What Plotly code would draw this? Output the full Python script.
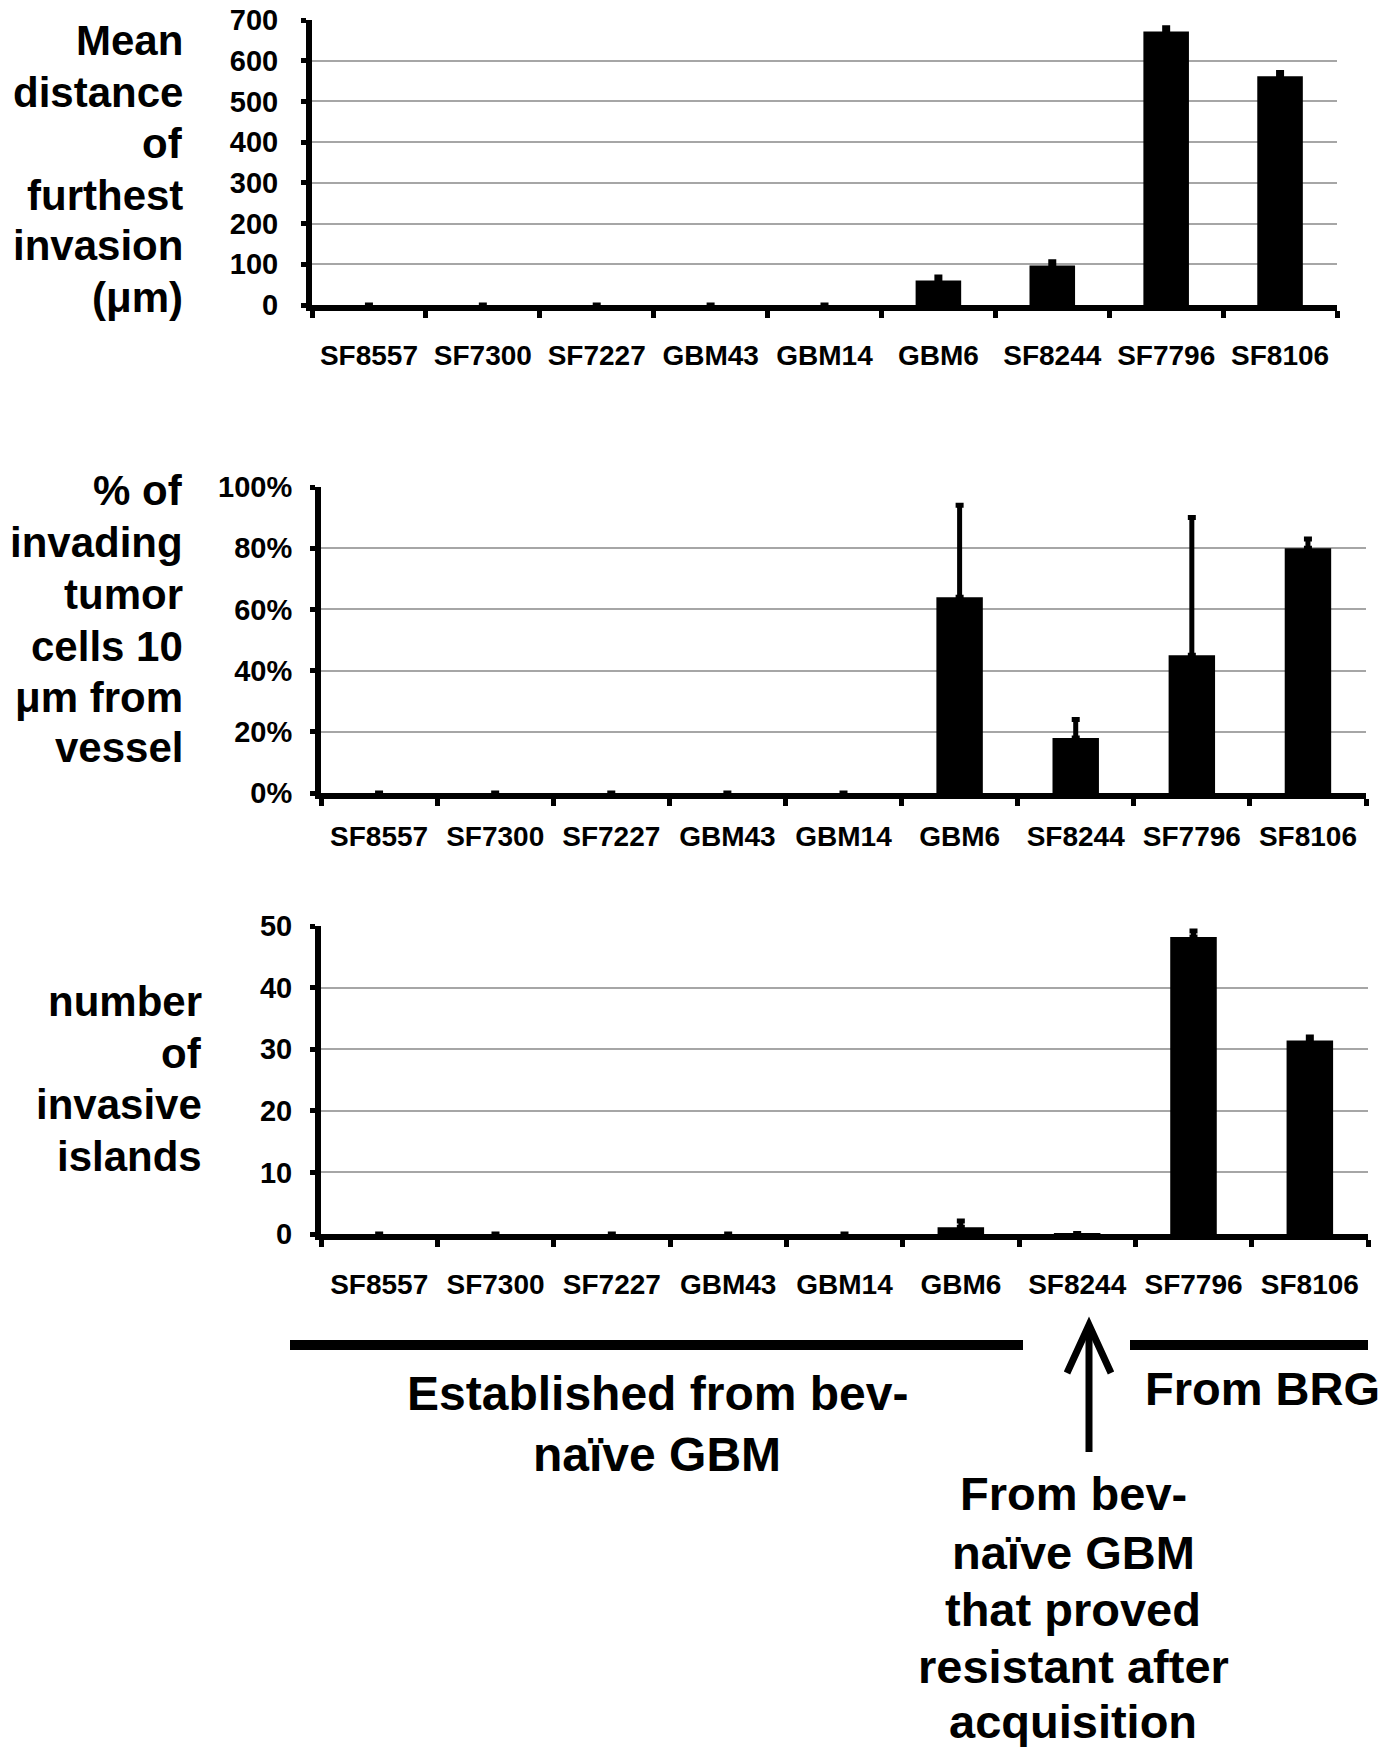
import plotly.graph_objects as go

W, H = 1399, 1747
FONT = 'Liberation Sans'
GRID = '#a6a6a6'

# data
cell_lines = ['SF8557', 'SF7300', 'SF7227', 'GBM43', 'GBM14', 'GBM6', 'SF8244', 'SF7796', 'SF8106']

distance = [0, 0, 0, 0, 0, 60, 97, 672, 562]
distance_err = [None, None, None, None, None, 9, 9, 9, 9]

pct_near_vessel = [0, 0, 0, 0, 0, 64, 18, 45, 80]
pct_near_vessel_err = [None, None, None, None, None, 30, 6, 45, 3]

islands = [0, 0, 0, 0, 0, 1.1, 0.1, 48.2, 31.4]
islands_err = [None, None, None, None, None, 1.0, None, 1.0, 0.6]


# page pixel -> paper fraction
def px(x):
    return x / W


def py(y):
    return 1 - y / H


fig = go.Figure()

panels = [
    # (values, errors, suffix, y range, dtick, x pixel span, y pixel span,
    #  x label size, x label standoff, y label standoff)
    (distance, distance_err, '', [0, 700], 100, (312, 1337), (20, 305), 28, 20, 17),
    (pct_near_vessel, pct_near_vessel_err, '%', [0, 100], 20, (321, 1366), (487, 793), 28, 13, 12),
    (islands, islands_err, '', [0, 50], 10, (321, 1368), (926, 1234), 28, 20, 12),
]

for i, (vals, errs, suffix, yr, dt, xs, ys, lab, so, yso) in enumerate(panels, start=1):
    sfx = '' if i == 1 else str(i)
    fig.add_trace(go.Bar(
        x=cell_lines, y=vals,
        xaxis='x' + sfx, yaxis='y' + sfx,
        marker=dict(color='black', line=dict(width=0)),
        error_y=dict(type='data', array=errs, arrayminus=[0] * len(errs), symmetric=False,
                     color='black', thickness=5, width=4),
        hoverinfo='none', showlegend=False
    ))
    fig.update_layout(**{
        'xaxis' + sfx: dict(
            domain=[px(xs[0]), px(xs[1])], anchor='y' + sfx, automargin=False,
            type='category', categoryorder='array', categoryarray=cell_lines,
            showline=True, linewidth=6, linecolor='black',
            ticks='outside', tickson='boundaries', ticklen=7, tickwidth=5, tickcolor='black',
            showgrid=False, ticklabelstandoff=so, tickangle=0, ticklabeloverflow='allow',
            tickfont=dict(family=FONT, size=lab, color='black', weight='bold'),
            fixedrange=True
        ),
        'yaxis' + sfx: dict(
            domain=[py(ys[1]), py(ys[0])], anchor='x' + sfx, automargin=False,
            range=yr, dtick=dt, ticksuffix=suffix,
            showline=True, linewidth=6, linecolor='black',
            ticks='outside', ticklen=5, tickwidth=5, tickcolor='black',
            showgrid=True, gridcolor=GRID, gridwidth=2, zeroline=False,
            ticklabelstandoff=yso, ticklabeloverflow='allow',
            tickfont=dict(family=FONT, size=29, color='black', weight='bold'),
            fixedrange=True
        ),
    })

annotations = []


def add_lines(lines, x, ys, anchor, size):
    for text, y in zip(lines, ys):
        annotations.append(dict(
            text=text, x=px(x), y=py(y), xref='paper', yref='paper',
            xanchor=anchor, yanchor='middle', showarrow=False,
            font=dict(family=FONT, size=size, color='black', weight='bold')
        ))


add_lines(['Mean', 'distance', 'of', 'furthest', 'invasion', '(\u03bcm)'],
          185, [41, 92, 144, 195, 246, 297], 'right', 42)
add_lines(['% of', 'invading', 'tumor', 'cells 10', '\u03bcm from', 'vessel'],
          185, [490, 543, 594, 646, 697, 748], 'right', 42)
add_lines(['number', 'of', 'invasive', 'islands'],
          204, [1001, 1053, 1104, 1156], 'right', 42)

add_lines(['Established from bev-', 'na\u00efve GBM'], 657, [1393, 1454], 'center', 48)
add_lines(['From BRG'], 1143, [1388], 'left', 47)
add_lines(['From bev-', 'na\u00efve GBM', 'that proved', 'resistant after', 'acquisition'],
          1073, [1493, 1552, 1609, 1666, 1721], 'center', 47)

ARROW_X, TIP_Y, BASE_Y = 1089, 1325, 1452
shapes = [
    dict(type='line', xref='paper', yref='paper', x0=px(290), x1=px(1023), y0=py(1345), y1=py(1345),
         line=dict(color='black', width=10)),
    dict(type='line', xref='paper', yref='paper', x0=px(1130), x1=px(1368), y0=py(1345), y1=py(1345),
         line=dict(color='black', width=10)),
    # arrow pointing up at SF8244
    dict(type='line', xref='paper', yref='paper', x0=px(ARROW_X), x1=px(ARROW_X),
         y0=py(BASE_Y), y1=py(TIP_Y + 2), line=dict(color='black', width=7)),
    dict(type='path', xref='paper', yref='paper',
         path=f'M {px(ARROW_X - 22)},{py(TIP_Y + 48)} L {px(ARROW_X)},{py(TIP_Y)} '
              f'L {px(ARROW_X + 22)},{py(TIP_Y + 48)}',
         line=dict(color='black', width=7)),
]

fig.update_layout(
    width=W, height=H,
    margin=dict(l=0, r=0, t=0, b=0),
    paper_bgcolor='white', plot_bgcolor='white',
    bargap=0.6, showlegend=False, hovermode=False,
    annotations=annotations, shapes=shapes
)

# drop the default page margin so the figure sits at the window's corner
fig.write_html('out.html', config={'displayModeBar': False},
               post_script="document.body.style.margin='0px';")
